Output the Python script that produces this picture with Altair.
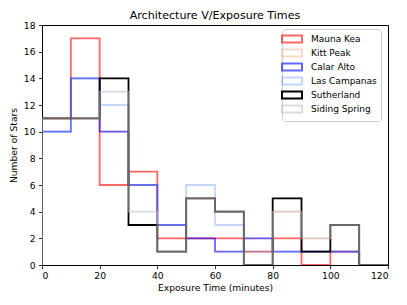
import altair as alt
import pandas as pd

edges = [0, 10, 20, 30, 40, 50, 60, 70, 80, 90, 100, 110, 120]
sites = ["Mauna Kea", "Kitt Peak", "Calar Alto", "Las Campanas", "Sutherland", "Siding Spring"]
mauna_kea     = [11, 17, 6, 7, 2, 2, 2, 1, 2, 0, 1, 0]
kitt_peak     = [11, 11, 10, 6, 3, 5, 4, 2, 4, 2, 3, 0]
calar_alto    = [10, 14, 10, 6, 3, 2, 1, 2, 1, 1, 1, 0]
las_campanas  = [10, 14, 12, 6, 3, 6, 3, 1, 1, 1, 1, 0]
sutherland    = [11, 11, 14, 3, 1, 5, 4, 0, 5, 1, 3, 0]
siding_spring = [11, 11, 13, 4, 1, 5, 4, 0, 4, 2, 3, 0]
counts = [mauna_kea, kitt_peak, calar_alto, las_campanas, sutherland, siding_spring]
colors = ["rgba(255,0,0,0.6)", "rgba(255,160,122,0.4)", "rgba(0,0,255,0.6)",
          "rgba(100,149,237,0.38)", "rgba(0,0,0,1)", "rgba(192,192,192,0.55)"]

rows = []
for s, vals in zip(sites, counts):
    o = 0
    rows.append({"site": s, "x": edges[0], "y": 0, "o": o}); o += 1
    for i, v in enumerate(vals):
        rows.append({"site": s, "x": edges[i], "y": v, "o": o}); o += 1
        rows.append({"site": s, "x": edges[i + 1], "y": v, "o": o}); o += 1
    rows.append({"site": s, "x": edges[-1], "y": 0, "o": o})
df = pd.DataFrame(rows)

leg = alt.Legend(
    title=None, orient="none", legendX=240, legendY=4,
    symbolType="M-2,-0.7H2V0.7H-2Z", symbolSize=100,
    symbolFillColor="transparent", symbolStrokeWidth=2,
    labelFont="DejaVu Sans", labelFontSize=9.0, labelColor="black",
    labelOffset=13, padding=4, rowPadding=-2,
    strokeColor="#cccccc", cornerRadius=3, fillColor="white",
)

xs = alt.X("x:Q", scale=alt.Scale(domain=[0, 120], nice=False),
           axis=alt.Axis(values=list(range(0, 121, 20)), title="Exposure Time (minutes)",
                         labelPadding=3, titlePadding=3))
ys = alt.Y("y:Q", scale=alt.Scale(domain=[0, 18], nice=False),
           axis=alt.Axis(values=list(range(0, 19, 2)), title="Number of Stars",
                         labelPadding=3.5, titlePadding=5))
col = alt.Color("site:N", scale=alt.Scale(domain=sites, range=colors), legend=leg)

layers = []
for s in sites:
    layers.append(
        alt.Chart(df).transform_filter(alt.datum.site == s)
        .mark_line(strokeWidth=1.8, strokeJoin="miter", strokeCap="butt", clip=True)
        .encode(x=xs, y=ys, color=col, order="o:Q")
    )

chart = alt.layer(*layers).properties(
    width=346, height=240,
    title=alt.TitleParams("Architecture V/Exposure Times", font="DejaVu Sans", fontSize=11.1,
                          fontWeight="normal", color="black", offset=-11, anchor="middle",
                          frame="group", baseline="bottom"),
    autosize=alt.AutoSizeParams(type="none"),
    padding={"left": 34, "top": 17, "right": 11, "bottom": 32},
).configure_view(stroke="black", strokeWidth=1).configure_axis(
    grid=False, domainColor="black", tickColor="black", tickSize=3.5, tickWidth=0.8,
    labelFont="DejaVu Sans", labelFontSize=9.2, labelColor="black",
    titleFont="DejaVu Sans", titleFontSize=9.2, titleFontWeight="normal", titleColor="black",
)

chart.save("out.html", embed_options={"renderer": "svg", "actions": False})
